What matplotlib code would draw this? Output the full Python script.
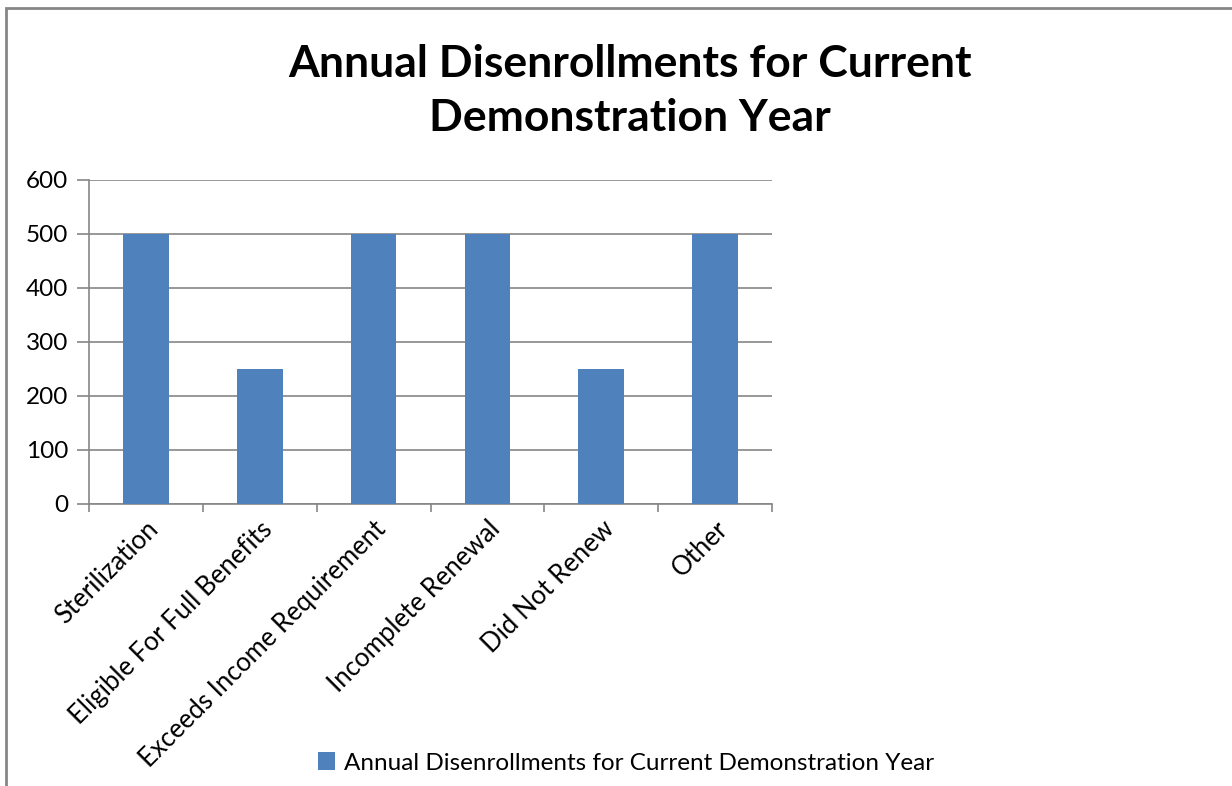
import matplotlib
matplotlib.use("Agg")
import matplotlib.pyplot as plt
from matplotlib.patches import Rectangle
import numpy as np

categories = ["Sterilization", "Eligible For Full Benefits", "Exceeds Income Requirement",
              "Incomplete Renewal", "Did Not Renew", "Other"]
values = [500, 250, 500, 500, 250, 500]
y_ticks = [0, 100, 200, 300, 400, 500, 600]
series_name = "Annual Disenrollments for Current Demonstration Year"
title = "Annual Disenrollments for Current\nDemonstration Year"

plt.rcParams['font.family'] = ['Lato', 'DejaVu Sans']

W, H = 1232, 786
fig = plt.figure(figsize=(W/100, H/100), dpi=100)
fig.patch.set_facecolor("white")

# outer border
fig.add_artist(Rectangle((6/W, -0.1), 1.2, 1 - 8/H + 0.1, transform=fig.transFigure,
                         fill=False, edgecolor="#868686", linewidth=2))

ax = fig.add_axes([89/W, 1 - 504/H, (772-89)/W, (504-180)/H])
x = np.arange(len(categories))
ax.bar(x, values, width=0.4, color="#4F81BD", zorder=3, label=series_name)
ax.set_xlim(-0.5, len(categories) - 0.5)
ax.set_ylim(0, 600)
ax.set_yticks(y_ticks)
ax.set_yticklabels([str(v) for v in y_ticks], fontsize=17.5)
ax.yaxis.grid(True, color="#868686", linewidth=1.2, zorder=0)
ax.tick_params(axis="y", length=9, width=1.2, color="#868686", pad=6)
ax.set_xticks(np.arange(len(categories) + 1) - 0.5)
ax.set_xticklabels([])
ax.tick_params(axis="x", length=6, width=1.2, color="#868686")
ax.set_xticks(x, minor=True)
ax.set_xticklabels(categories, minor=True, rotation=45, ha="right", va="top",
                   rotation_mode="anchor", fontsize=18.5)
ax.tick_params(axis="x", which="minor", length=0, pad=9)
for s in ["top", "right"]:
    ax.spines[s].set_visible(False)
for s in ["left", "bottom"]:
    ax.spines[s].set_color("#868686")
    ax.spines[s].set_linewidth(1.2)

fig.text(630/W, 1 - 91/H, title, ha="center", va="center", fontsize=32,
         fontweight="bold", linespacing=1.45)

fig.legend(loc="center", bbox_to_anchor=(626/W, 1 - 763/H), frameon=False,
           fontsize=17.5, handlelength=0.7, handleheight=0.7, handletextpad=0.35)

fig.savefig("out.png", dpi=100)
